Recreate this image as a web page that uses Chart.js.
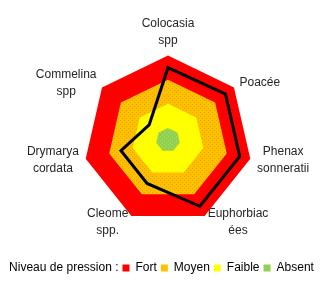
<!DOCTYPE html>
<html>
<head>
<meta charset="utf-8">
<script src="https://cdn.jsdelivr.net/npm/chart.js@4/dist/chart.umd.min.js"></script>
<style>
  html, body { margin: 0; padding: 0; background: #fff; }
  #wrap { width: 326px; height: 283px; }
</style>
</head>
<body>
<div id="wrap"><canvas id="myRadarChart"></canvas></div>
<script>
const categories = [
  ["Colocasia", "spp"], "Poacée", ["Phenax", "sonneratii"], ["Euphorbiac", "ées"],
  ["Cleome", "spp."], ["Drymarya", "cordata"], ["Commelina", "spp"],
];
const levelNames = ["Fort", "Moyen", "Faible", "Absent"];
const fort = [4, 4, 4, 4, 4, 4, 4];
const moyen = [3, 3, 3, 3, 3, 3, 3];
const faible = [2, 2, 2, 2, 2, 2, 2];
const absent = [1, 1, 1, 1, 1, 1, 1];
const observed = [3.5, 3.55, 3.55, 3.55, 2.5, 2.5, 1.5];
const legendTitle = "Niveau de pression :";

// little dotted textures like the excel fills
function dotted(base, dot) {
  const c = document.createElement("canvas");
  c.width = 4; c.height = 4;
  const g = c.getContext("2d");
  g.fillStyle = base;
  g.fillRect(0, 0, 4, 4);
  g.fillStyle = dot;
  g.fillRect(0, 0, 1, 1);
  g.fillRect(2, 2, 1, 1);
  return g.createPattern(c, "repeat");
}

const orangeFill = dotted("#FFC000", "#EAA400");
const greenFill = dotted("#92D050", "#A6DC6A");
const levelColors = ["#FF0000", orangeFill, "#FFFF00", greenFill];
const swatchColors = ["#FF0000", "#FFC000", "#FFFF00", "#92D050"];

function level(label, data, color, order) {
  return {
    label: label,
    data: data,
    backgroundColor: color,
    borderWidth: 0,
    pointRadius: 0,
    fill: "origin",
    order: order,
  };
}

// excel puts the radar a bit off the chart.js centre and centres the
// side labels on their spoke, so move things a little after layout
const excelLayout = {
  id: "excelLayout",
  afterLayout(chart) {
    const r = chart.scales.r;
    r.xCenter += 6;
    r.yCenter += 8;
    const pad = r.options.pointLabels.padding;
    r._pointLabelItems.forEach((item, i) => {
      const w = item.right - item.left;
      const h = item.bottom - item.top;
      const p = r.getPointPosition(i, r.drawingArea + pad);
      let left = p.x - w / 2;
      if (item.textAlign === "left") left = p.x;
      if (item.textAlign === "right") left = p.x - w;
      const top = i === 0 ? p.y - h : p.y - h / 2;
      item.left = left;
      item.right = left + w;
      item.top = top;
      item.bottom = top + h;
      item.x = left + w / 2;
      item.y = top;
      item.textAlign = "center";
    });
    const lg = chart.legend;
    lg.left -= 8; lg.right -= 8;
    lg.top += 5; lg.bottom += 5;
  },
};

let ctx = document.getElementById("myRadarChart").getContext("2d");

let radarChart = new Chart(ctx, {
  type: "radar",
  data: {
    labels: categories,
    datasets: [
      level(levelNames[0], fort, levelColors[0], 4),
      level(levelNames[1], moyen, levelColors[1], 3),
      level(levelNames[2], faible, levelColors[2], 2),
      level(levelNames[3], absent, levelColors[3], 1),
      {
        label: "Relevé",
        data: observed,
        borderColor: "#000000",
        borderWidth: 3,
        pointRadius: 0,
        fill: false,
        order: 0,
      },
    ],
  },
  options: {
    responsive: true,
    maintainAspectRatio: false,
    animation: false,
    layout: { padding: { top: 2, bottom: 4, left: 0, right: 0 } },
    scales: {
      r: {
        min: 0.5,
        max: 4,
        ticks: { display: false },
        grid: { display: false },
        angleLines: { display: false },
        pointLabels: {
          color: "#262626",
          padding: 7,
          font: { family: "'Liberation Sans', Arial, sans-serif", size: 12, lineHeight: 1.4 },
        },
      },
    },
    plugins: {
      tooltip: { enabled: false },
      legend: {
        position: "bottom",
        labels: {
          color: "#262626",
          boxWidth: 7,
          boxHeight: 7,
          padding: 4,
          font: { family: "'Liberation Sans', Arial, sans-serif", size: 12 },
          generateLabels: () => {
            const items = [{
              text: legendTitle,
              fillStyle: "rgba(0,0,0,0)",
              strokeStyle: "rgba(0,0,0,0)",
              lineWidth: 0,
              hidden: false,
            }];
            levelNames.forEach((name, i) => {
              items.push({
                text: name,
                fillStyle: swatchColors[i],
                strokeStyle: swatchColors[i],
                lineWidth: 0,
                hidden: false,
                datasetIndex: i,
              });
            });
            return items;
          },
        },
        onClick: () => {},
      },
    },
  },
  plugins: [excelLayout],
});
</script>
</body>
</html>
